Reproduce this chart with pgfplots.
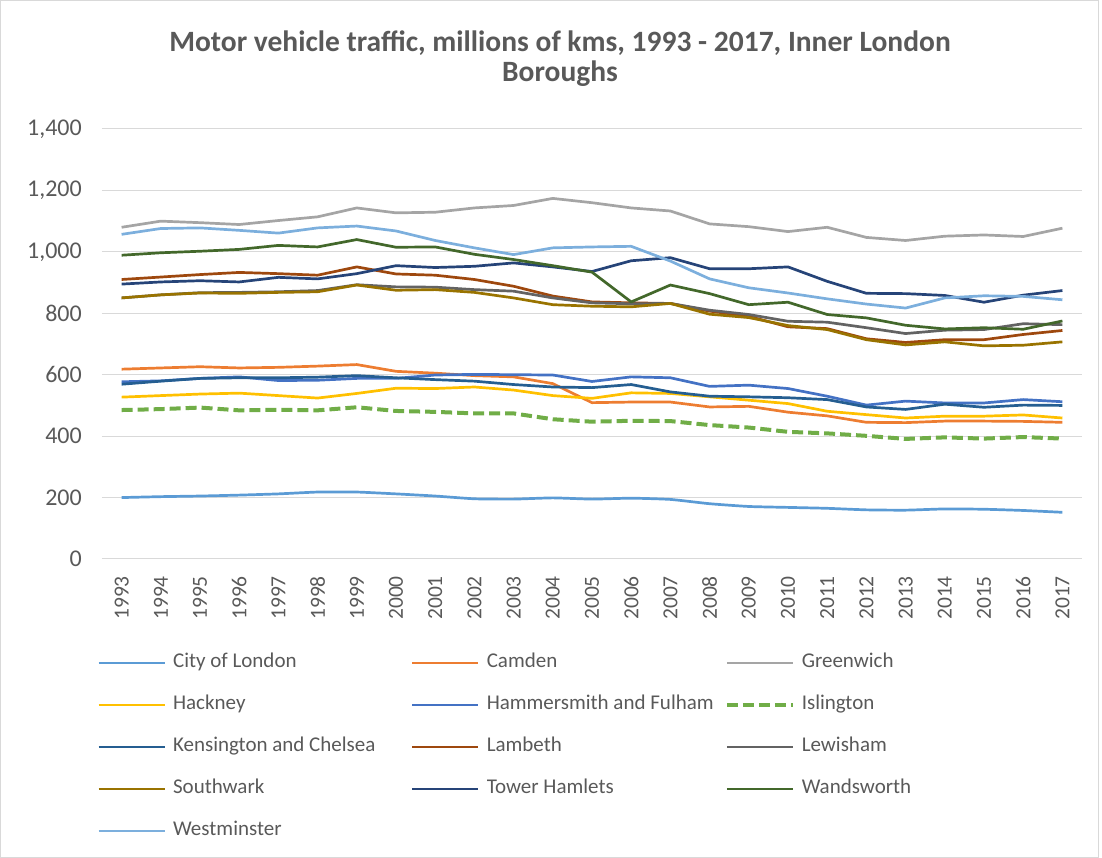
\documentclass[border=0pt]{standalone}
\usepackage{pgfplots}
\pgfplotsset{compat=1.18}
\usepackage{pgfplotstable}
\usepackage{fontspec}
\setmainfont{Carlito}
\definecolor{cCoL}{HTML}{5B9BD5}
\definecolor{cCam}{HTML}{ED7D31}
\definecolor{cGre}{HTML}{A5A5A5}
\definecolor{cHac}{HTML}{FFC000}
\definecolor{cHam}{HTML}{4472C4}
\definecolor{cIsl}{HTML}{70AD47}
\definecolor{cKen}{HTML}{255E91}
\definecolor{cLam}{HTML}{9E480E}
\definecolor{cLew}{HTML}{636363}
\definecolor{cSou}{HTML}{997300}
\definecolor{cTow}{HTML}{264478}
\definecolor{cWan}{HTML}{43682B}
\definecolor{cWes}{HTML}{7CAFDD}
\definecolor{textgray}{HTML}{595959}
\definecolor{gridgray}{HTML}{D9D9D9}

\pgfplotstableread{
x year CoL Cam Gre Hac Ham Isl Ken Lam Lew Sou Tow Wan Wes
0 1993 200 618 1080 527 577 485 569 910 850 850 895 989 1057
1 1994 203 622 1100 532 580 488 579 918 860 860 902 997 1076
2 1995 205 626 1095 537 588 493 588 926 867 866 906 1002 1078
3 1996 208 622 1089 540 593 484 590 933 868 865 902 1008 1070
4 1997 212 624 1102 532 581 486 590 929 870 868 917 1021 1061
5 1998 218 628 1114 524 582 484 592 924 874 870 912 1016 1078
6 1999 218 633 1143 539 588 494 597 951 893 892 929 1040 1084
7 2000 212 611 1127 556 588 482 590 928 886 875 955 1015 1068
8 2001 205 605 1129 555 599 479 584 924 885 877 949 1016 1037
9 2002 196 597 1143 560 601 474 579 910 877 868 953 992 1013
10 2003 195 593 1151 550 600 474 568 888 872 850 964 975 991
11 2004 199 571 1174 532 599 455 560 856 850 828 951 955 1013
12 2005 195 509 1160 523 578 447 558 837 834 823 936 934 1016
13 2006 198 511 1143 541 593 450 568 834 831 821 971 837 1018
14 2007 194 511 1133 539 590 449 544 832 832 832 981 892 970
15 2008 180 495 1091 528 562 436 530 807 810 797 945 864 912
16 2009 171 497 1082 517 566 428 528 790 796 786 945 828 883
17 2010 168 478 1066 506 555 414 525 756 774 760 951 836 866
18 2011 165 466 1080 481 530 409 519 750 771 747 904 796 847
19 2012 160 445 1047 470 501 401 495 717 753 714 865 785 830
20 2013 159 444 1037 459 514 391 487 705 734 697 864 761 817
21 2014 163 449 1051 465 508 396 504 714 745 707 858 749 850
22 2015 162 449 1055 465 508 392 494 714 747 694 836 753 857
23 2016 158 448 1050 469 519 397 501 731 766 696 859 748 855
24 2017 152 445 1077 459 512 392 500 744 763 707 874 775 844
}\data

\newcommand{\lt}[1]{\makebox[223pt][l]{#1}}

\begin{document}
\begin{tikzpicture}
\path[use as bounding box] (-102pt,-299pt) rectangle (1000pt,559pt);
\draw[gridgray, line width=1pt] (-101.5pt,-298.5pt) rectangle (996pt,558.5pt);
\begin{axis}[
  at={(0,0)}, anchor=south west,
  scale only axis, width=980pt, height=430pt,
  xmin=-0.5, xmax=24.5, ymin=0, ymax=1400,
  xtick={0,...,24},
  xticklabels={1993,1994,1995,1996,1997,1998,1999,2000,2001,2002,2003,2004,2005,2006,2007,2008,2009,2010,2011,2012,2013,2014,2015,2016,2017},
  ytick={0,200,...,1400},
  ymajorgrids, major grid style={gridgray, line width=1pt},
  axis line style={draw=none},
  major tick length=0pt,
  tick style={draw=none},
  /pgf/number format/assume math mode=true,
  /pgf/number format/1000 sep={,},
  yticklabel style={font=\fontsize{24}{27}\selectfont, text=textgray, anchor=east, inner sep=0pt, xshift=-20pt},
  xticklabel style={font=\fontsize{21.5}{24}\selectfont, text=textgray, yshift=-17pt, rotate=90, anchor=east, inner sep=0pt},
  legend columns=3,
  legend cell align=left,
  legend image code/.code={\draw[#1] (0pt,0pt) -- (66pt,0pt);},
  legend style={draw=none, fill=none, at={(-0.008,-0.21)}, anchor=north west,
    font=\fontsize{21}{24}\selectfont, text=textgray,
    nodes={inner sep=3pt, text height=13pt, text depth=4pt},
    column sep=4pt, row sep=19pt,
    /tikz/every even column/.append style={column sep=12pt}},
  every axis plot/.append style={line width=2.7pt, line join=round},
]
\addplot[cCoL, smooth, tension=0.3] table[x=x, y=CoL] {\data}; \addlegendentry{\lt{City of London}}
\addplot[cCam] table[x=x, y=Cam] {\data}; \addlegendentry{\lt{Camden}}
\addplot[cGre] table[x=x, y=Gre] {\data}; \addlegendentry{\lt{Greenwich}}
\addplot[cHac] table[x=x, y=Hac] {\data}; \addlegendentry{\lt{Hackney}}
\addplot[cHam] table[x=x, y=Ham] {\data}; \addlegendentry{\lt{Hammersmith and Fulham}}
\addplot[cIsl, line width=4pt, dash pattern=on 11pt off 5pt] table[x=x, y=Isl] {\data}; \addlegendentry{\lt{Islington}}
\addplot[cKen] table[x=x, y=Ken] {\data}; \addlegendentry{\lt{Kensington and Chelsea}}
\addplot[cLam] table[x=x, y=Lam] {\data}; \addlegendentry{\lt{Lambeth}}
\addplot[cLew] table[x=x, y=Lew] {\data}; \addlegendentry{\lt{Lewisham}}
\addplot[cSou] table[x=x, y=Sou] {\data}; \addlegendentry{\lt{Southwark}}
\addplot[cTow] table[x=x, y=Tow] {\data}; \addlegendentry{\lt{Tower Hamlets}}
\addplot[cWan] table[x=x, y=Wan] {\data}; \addlegendentry{\lt{Wandsworth}}
\addplot[cWes] table[x=x, y=Wes] {\data}; \addlegendentry{\lt{Westminster}}
\end{axis}
\node[text=textgray, anchor=base, font=\fontsize{29.5}{33}\selectfont\bfseries] at (458pt,507pt) {Motor vehicle traffic, millions of kms, 1993 - 2017, Inner London};
\node[text=textgray, anchor=base, font=\fontsize{29.5}{33}\selectfont\bfseries] at (458pt,477pt) {Boroughs};
\end{tikzpicture}
\end{document}
